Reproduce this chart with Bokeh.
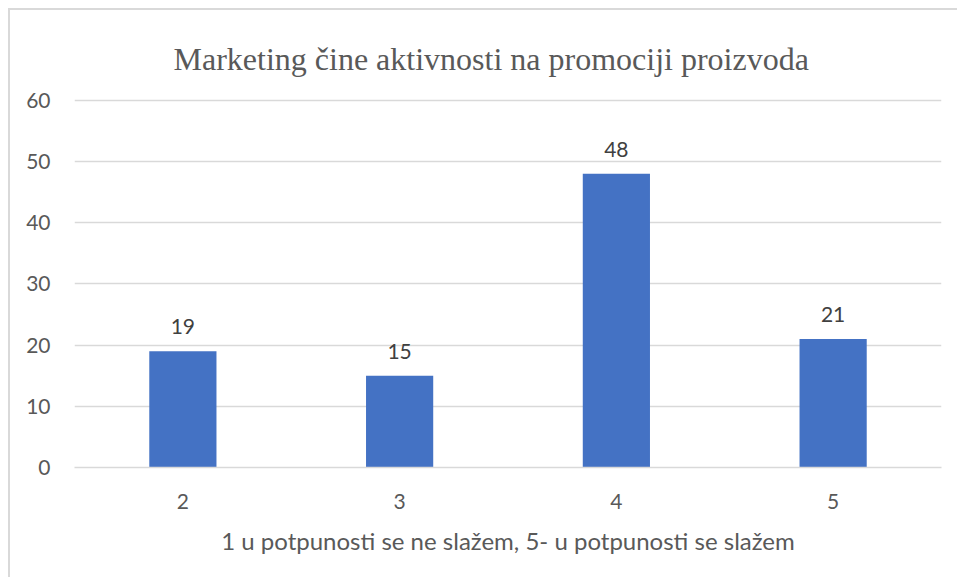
from bokeh.plotting import figure
from bokeh.models import ColumnDataSource, FactorRange, Range1d, FixedTicker, LabelSet
from bokeh.core.properties import value
from bokeh.embed import file_html
from bokeh.resources import INLINE

categories = ["2", "3", "4", "5"]
values = [19, 15, 48, 21]
labels = [str(v) for v in values]
y_ticks = [0, 10, 20, 30, 40, 50, 60]

title_text = "Marketing čine aktivnosti na promociji proizvoda"
x_title = "1 u potpunosti se ne slažem, 5- u potpunosti se slažem"

src = ColumnDataSource(dict(cat=categories, val=values, lab=labels))

W, H = 949, 569
p = figure(
    width=W, height=H,
    x_range=FactorRange(factors=categories, range_padding=0),
    y_range=Range1d(0, 60.3),
    output_backend="svg", toolbar_location=None,
    min_border_left=64, min_border_right=18, min_border_top=88, min_border_bottom=112,
    title=title_text,
)
p.margin = (8, 0, 0, 8)
p.styles = {"border-top": "2px solid #d9d9d9", "border-left": "2px solid #d9d9d9"}

p.title.text_font = "Liberation Serif"
p.title.text_font_size = "32px"
p.title.text_font_style = "normal"
p.title.text_color = "#595959"
p.title.align = "left"
p.title.offset = 99
p.title.standoff = 44
p.title.text_line_height = 0.6

p.vbar(x="cat", top="val", width=0.31, source=src, color="#4472C4", line_color=None)

p.add_layout(LabelSet(x="cat", y="val", text="lab", source=src, text_align="center",
                      text_baseline="bottom", y_offset=17, text_font=value("Lato"),
                      text_font_size=value("21px"), text_color=value("#404040")))

p.outline_line_color = None
p.xgrid.grid_line_color = None
p.ygrid.grid_line_color = "#d9d9d9"
p.ygrid.grid_line_width = 1.5
p.yaxis.ticker = FixedTicker(ticks=y_ticks)

p.yaxis.axis_line_color = None
p.yaxis.major_tick_line_color = None
p.yaxis.minor_tick_line_color = None
p.yaxis.major_label_standoff = 18
p.yaxis.major_label_text_font = "Lato"
p.yaxis.major_label_text_font_size = "21px"
p.yaxis.major_label_text_color = "#595959"

p.xaxis.axis_line_color = "#d9d9d9"
p.xaxis.axis_line_width = 1.5
p.xaxis.major_tick_line_color = None
p.xaxis.minor_tick_line_color = None
p.xaxis.major_label_standoff = 20
p.xaxis.major_label_text_font = "Lato"
p.xaxis.major_label_text_font_size = "21px"
p.xaxis.major_label_text_color = "#595959"
p.xaxis.axis_label = x_title
p.xaxis.axis_label_text_font = "Lato"
p.xaxis.axis_label_text_font_size = "24px"
p.xaxis.axis_label_text_font_style = "normal"
p.xaxis.axis_label_text_color = "#595959"
p.xaxis.axis_label_standoff = 14

p.background_fill_color = "white"
p.border_fill_color = "white"

open("out.html", "w").write(file_html(p, INLINE))
